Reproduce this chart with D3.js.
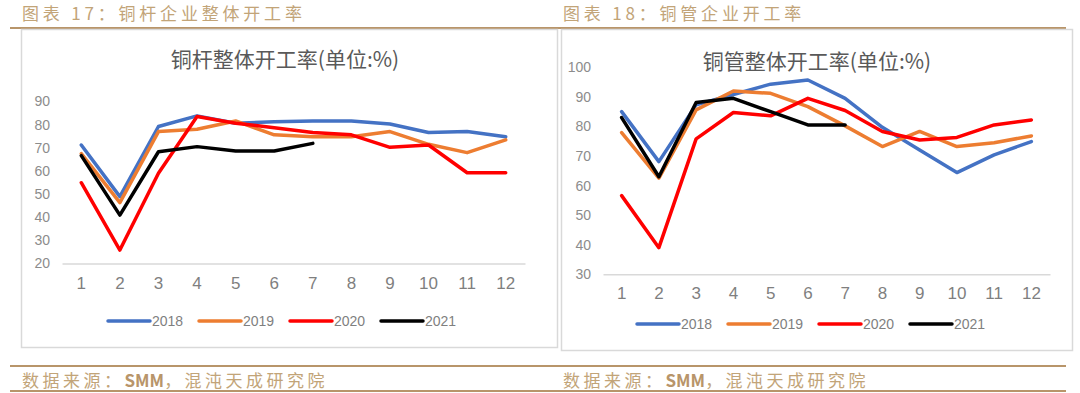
<!DOCTYPE html>
<html>
<head>
<meta charset="utf-8">
<script src="https://cdn.jsdelivr.net/npm/d3@7"></script>
<style>
  body { margin: 0; background: #fff; }
  svg { display: block; }
</style>
</head>
<body>
<div id="chart"></div>
<script>
// 数据
const months = ['1', '2', '3', '4', '5', '6', '7', '8', '9', '10', '11', '12'];
const years = ['2018', '2019', '2020', '2021'];
const colors = ['#4472C4', '#ED7D31', '#FF0000', '#000000'];

// 铜杆整体开工率
const rod2018 = [71.2, 48.9, 79.2, 83.8, 80.6, 81.2, 81.6, 81.6, 80.3, 76.6, 77.0, 74.8];
const rod2019 = [67.5, 46.3, 77.0, 78.0, 81.6, 75.6, 74.8, 74.8, 77.0, 71.5, 67.9, 73.4];
const rod2020 = [54.9, 25.8, 59.0, 83.5, 80.6, 78.7, 76.6, 75.6, 70.2, 71.2, 59.2, 59.2];
const rod2021 = [66.6, 40.9, 68.3, 70.5, 68.6, 68.6, 71.9];
const rodTicks = [20, 30, 40, 50, 60, 70, 80, 90];

// 铜管整体开工率
const tube2018 = [85.0, 68.1, 87.3, 90.8, 94.3, 95.7, 89.5, 79.7, 72.0, 64.4, 70.4, 74.9];
const tube2019 = [77.9, 62.5, 85.6, 92.0, 91.2, 86.7, 80.2, 73.2, 78.3, 73.2, 74.5, 76.8];
const tube2020 = [56.6, 39.0, 75.8, 84.7, 83.6, 89.5, 85.4, 78.3, 75.4, 76.3, 80.5, 82.2];
const tube2021 = [83.0, 63.0, 88.1, 89.5, 85.0, 80.5, 80.5];
const tubeTicks = [30, 40, 50, 60, 70, 80, 90, 100];

const gold = '#b8956a';
const goldText = '#c2a478';
const cjk = '"Noto Sans CJK SC", sans-serif';
const latin = '"Liberation Sans", Arial, sans-serif';

const svg = d3.select('#chart')
  .append('svg')
  .attr('width', 1080)
  .attr('height', 393);

// 装饰线
[[28, 10, 1066], [366, 10, 1066], [391, 10, 1066]].forEach(([y, x1, x2]) => {
  svg.append('line')
    .attr('x1', x1).attr('x2', x2).attr('y1', y).attr('y2', y)
    .attr('stroke', gold).attr('stroke-width', 2);
});

// 标题
[
  { x: 22, y: 20, text: '图表 17：铜杆企业整体开工率' },
  { x: 563, y: 20, text: '图表 18：铜管企业开工率' }
].forEach(d => {
  svg.append('text')
    .attr('x', d.x).attr('y', d.y)
    .attr('font-family', cjk)
    .attr('font-size', 17)
    .attr('letter-spacing', 3.8)
    .attr('fill', goldText)
    .text(d.text);
});

// 来源
[22, 563].forEach(x0 => {
  const t = svg.append('text')
    .attr('x', x0).attr('y', 387)
    .attr('font-family', cjk)
    .attr('font-size', 17)
    .attr('fill', goldText);
  t.append('tspan').attr('letter-spacing', 3.5).text('数据来源：');
  t.append('tspan').attr('font-weight', 'bold').attr('fill', '#b8956a').text('SMM');
  t.append('tspan').attr('letter-spacing', 3.5).text('，混沌天成研究院');
});

function drawChart(opt) {
  const g = svg.append('g');

  // 外框
  g.append('rect')
    .attr('x', opt.box[0] + 0.5).attr('y', opt.box[1] + 0.5)
    .attr('width', opt.box[2]).attr('height', opt.box[3])
    .attr('fill', '#fff')
    .attr('stroke', '#d9d9d9')
    .attr('stroke-width', 1.5);

  // scale
  const x = d3.scaleBand().domain(months).range([opt.left, opt.right]);
  const y = d3.scaleLinear()
    .domain([opt.ticks[0], opt.ticks[opt.ticks.length - 1]])
    .range([opt.bottom, opt.top]);

  // 图表标题
  g.append('text')
    .attr('x', opt.titleX).attr('y', opt.titleY)
    .attr('text-anchor', 'middle')
    .attr('font-family', cjk)
    .attr('font-size', 21)
    .attr('fill', '#595959')
    .text(opt.title);

  // y轴
  const yAxis = g.append('g')
    .attr('transform', `translate(${opt.yLabelX},0)`)
    .call(d3.axisLeft(y).tickValues(opt.ticks).tickSize(0).tickPadding(0));
  yAxis.select('.domain').remove();
  yAxis.selectAll('text')
    .attr('font-family', latin)
    .attr('font-size', 14)
    .attr('fill', '#8c8c8c');

  // x轴
  const xAxis = g.append('g')
    .attr('transform', `translate(0,${opt.bottom})`)
    .call(d3.axisBottom(x).tickSize(0).tickPadding(13));
  xAxis.select('.domain')
    .attr('stroke', '#d9d9d9')
    .attr('stroke-width', 1.5);
  xAxis.selectAll('text')
    .attr('font-family', latin)
    .attr('font-size', 17)
    .attr('fill', '#7f7f7f');

  // 折线
  const line = d3.line()
    .x((d, i) => x(months[i]) + x.bandwidth() / 2)
    .y(d => y(d));
  opt.series.forEach((s, i) => {
    g.append('path')
      .datum(s)
      .attr('d', line)
      .attr('fill', 'none')
      .attr('stroke', colors[i])
      .attr('stroke-width', 3.5)
      .attr('stroke-linejoin', 'round')
      .attr('stroke-linecap', 'round');
  });

  // 图例
  const legend = g.selectAll('.legend')
    .data(years)
    .enter()
    .append('g')
    .attr('class', 'legend')
    .attr('transform', (d, i) => `translate(${opt.legendX + i * 91},${opt.legendY})`);
  legend.append('line')
    .attr('x1', 0).attr('x2', 42)
    .attr('stroke', (d, i) => colors[i])
    .attr('stroke-width', 3.5)
    .attr('stroke-linecap', 'round');
  legend.append('text')
    .attr('x', 44).attr('y', 5)
    .attr('font-family', latin)
    .attr('font-size', 14)
    .attr('fill', '#7f7f7f')
    .text(d => d);
}

drawChart({
  box: [21, 29, 536, 318],
  title: '铜杆整体开工率(单位:%)',
  titleX: 285, titleY: 67,
  left: 62, right: 525, top: 101.5, bottom: 263.5,
  yLabelX: 50,
  ticks: rodTicks,
  series: [rod2018, rod2019, rod2020, rod2021],
  legendX: 108, legendY: 321
});

drawChart({
  box: [561, 29, 511, 321],
  title: '铜管整体开工率(单位:%)',
  titleX: 817, titleY: 69,
  left: 603, right: 1050, top: 67.3, bottom: 274.3,
  yLabelX: 591,
  ticks: tubeTicks,
  series: [tube2018, tube2019, tube2020, tube2021],
  legendX: 637, legendY: 324
});
</script>
</body>
</html>
